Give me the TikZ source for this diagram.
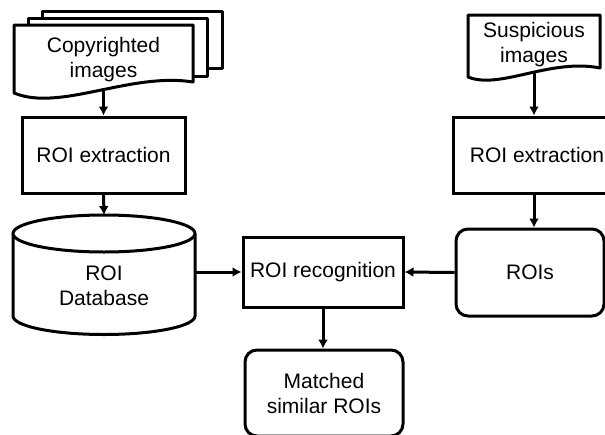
\documentclass[tikz,border=0pt]{standalone}
\usepackage{fontspec}
\setmainfont{Liberation Sans}
\usepackage{tikz}
\usetikzlibrary{arrows.meta}

\tikzset{
  box/.style={draw, line width=3pt, align=center, inner sep=0pt},
  rbox/.style={box, rounded corners=12pt},
  txt/.style={align=center, inner sep=0pt},
  shp/.style={draw, fill=white, line width=3pt, line join=round},
  arr/.style={-{Latex[length=9pt,width=10pt]}, line width=3pt},
}

\begin{document}
\begin{tikzpicture}[x=1pt, y=-1pt, font=\fontsize{21}{25}\selectfont]
\useasboundingbox (0,0) rectangle (605,434);
\clip (0,0) rectangle (605,434);

% stack of copyrighted images
\draw[shp] (42,11) rectangle (222,68);
\draw[shp] (28,18) rectangle (207,76);
\draw[shp] (14,25) -- (193,25) -- (193,82) .. controls (130,72) and (60,112) .. (14,93) -- cycle;
\node[txt, minimum width=179pt, minimum height=63pt] (copy) at (103.5,59.5) {Copyrighted\\images};

% suspicious image
\draw[shp] (468,15) -- (600,15) -- (600,68) .. controls (550,58) and (500,90) .. (468,77) -- cycle;
\node[txt, minimum width=132pt, minimum height=56pt] (susp) at (534,45) {Suspicious\\images};

% database
\draw[shp] (13,233.5) -- (13,316) arc[start angle=180, end angle=360, x radius=91pt, y radius=18.5pt] -- (195,233.5);
\draw[shp] (104,233.5) ellipse [x radius=91pt, y radius=18.5pt];
\coordinate (dbtop) at (104,215);
\coordinate (dbright) at (195,272);
\node[txt] (db) at (104,285.5) {ROI\\Database};

\node[box, minimum width=163pt, minimum height=76pt] (ext1) at (103.5,155) {ROI extraction};
\node[box, minimum width=168pt, minimum height=76pt] (ext2) at (537,155) {ROI extraction};
\node[box, minimum width=160pt, minimum height=70pt] (rec) at (323,272) {ROI recognition};
\node[rbox, minimum width=148pt, minimum height=87pt] (rois) at (530,272.5) {ROIs};
\node[rbox, minimum width=158pt, minimum height=86pt] (match) at (324,393) {Matched\\similar ROIs};

\draw[arr] (copy.south) -- (ext1.north);
\draw[arr] (ext1.south) -- (dbtop);
\draw[arr] (dbright) -- (rec.west);
\draw[arr] (susp.south) -- (susp.south |- ext2.north);
\draw[arr] (susp.south |- ext2.south) -- (susp.south |- rois.north);
\draw[arr] (rois.west) -- (rec.east);
\draw[arr] (rec.south) -- (rec.south |- match.north);
\end{tikzpicture}
\end{document}
